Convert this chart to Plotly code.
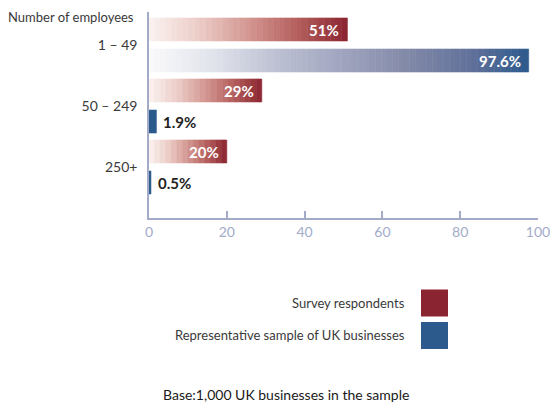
import plotly.graph_objects as go

# ---- data -----------------------------------------------------------------
categories = ["1 – 49", "50 – 249", "250+"]
survey_values = [51, 29, 20]
sample_values = [97.6, 1.9, 0.5]
survey_labels = ["51%", "29%", "20%"]
sample_labels = ["97.6%", "1.9%", "0.5%"]
x_ticks = [0, 20, 40, 60, 80, 100]

series_names = ["Survey respondents", "Representative sample of UK businesses"]

# ---- styling --------------------------------------------------------------
FONT = "Lato, 'Open Sans', sans-serif"
RED_STOPS = [(0.0, "#fbf3f1"), (0.25, "#eccdc8"), (0.5, "#d49792"),
             (0.75, "#b45f5d"), (1.0, "#8a2430")]
BLUE_STOPS = [(0.0, "#fafafc"), (0.17, "#e1e3eb"), (0.34, "#bcc0d2"),
              (0.5, "#a2a6c0"), (0.67, "#848ba9"), (0.85, "#61719a"),
              (1.0, "#2c5a8c")]
RED_SOLID = "#8a2430"
BLUE_SOLID = "#2c5a8c"
AXIS_COLOR = "#a3abc9"

W, H = 550, 405
ML, MR, MT, MB = 149, 12, 12, 187
PW, PH = W - ML - MR, H - MT - MB


def px_x(px):
    return (px - ML) / PW


def px_y(py):
    return (H - MB - py) / PH


def hex_rgb(h):
    h = h.lstrip("#")
    return tuple(int(h[i:i + 2], 16) for i in (0, 2, 4))


def ramp(stops, t):
    for (t0, c0), (t1, c1) in zip(stops, stops[1:]):
        if t <= t1:
            f = 0 if t1 == t0 else (t - t0) / (t1 - t0)
            a, b = hex_rgb(c0), hex_rgb(c1)
            return "rgb(%d,%d,%d)" % tuple(round(a[i] + (b[i] - a[i]) * f) for i in range(3))
    return stops[-1][1]


def banded(values, stops, solid, band=1.45):
    """Split each bar into narrow bands that fade from white to the series colour."""
    ys, bases, lens, cols = [], [], [], []
    for cat, v in zip(categories, values):
        if v < 5:
            ys.append(cat); bases.append(0); lens.append(v); cols.append(solid)
            continue
        n = max(1, round(v / band))
        step = v / n
        for i in range(n):
            ys.append(cat)
            bases.append(i * step)
            lens.append(step)
            cols.append(ramp(stops, (i + 0.5) / n))
    return ys, bases, lens, cols


fig = go.Figure()

BAR_W = 0.377
for name, vals, stops, solid, off in [
    (series_names[0], survey_values, RED_STOPS, RED_SOLID, -0.443),
    (series_names[1], sample_values, BLUE_STOPS, BLUE_SOLID, 0.066),
]:
    ys, bases, lens, cols = banded(vals, stops, solid)
    fig.add_trace(go.Bar(
        name=name, orientation="h", y=ys, x=lens, base=bases,
        width=BAR_W, offset=off,
        marker=dict(color=cols, line=dict(color=cols, width=0.6)),
        hoverinfo="skip", showlegend=False,
    ))

# value labels
annotations = []
for labels, vals, shift in [(survey_labels, survey_values, 15.5),
                            (sample_labels, sample_values, -15.5)]:
    for cat, v, lab in zip(categories, vals, labels):
        inside = v > 10
        annotations.append(dict(
            x=v, y=cat, xref="x", yref="y", text="<b>%s</b>" % lab,
            showarrow=False, yshift=shift,
            xanchor="right" if inside else "left",
            xshift=-6 if inside else 5,
            font=dict(family=FONT, size=15, color="white" if inside else "#222222"),
        ))

# axis caption above the category labels
annotations.append(dict(
    x=px_x(136), y=px_y(17), xref="paper", yref="paper", text="Number of employees",
    showarrow=False, xanchor="right", yanchor="middle",
    font=dict(family=FONT, size=13, color="#3a3a3a"),
))

# legend: text to the left of the swatch
shapes = []
for name, col, yc in [(series_names[0], RED_SOLID, 303), (series_names[1], BLUE_SOLID, 335.5)]:
    shapes.append(dict(type="rect", xref="paper", yref="paper",
                       x0=px_x(421), x1=px_x(448), y0=px_y(yc - 13.5), y1=px_y(yc + 13.5),
                       fillcolor=col, line=dict(width=0)))
    annotations.append(dict(
        x=px_x(407), y=px_y(yc), xref="paper", yref="paper", text=name,
        showarrow=False, xanchor="right", yanchor="middle",
        font=dict(family=FONT, size=13, color="#3a3a3a"),
    ))

annotations.append(dict(
    x=px_x(286), y=px_y(395), xref="paper", yref="paper",
    text="Base:1,000 UK businesses in the sample",
    showarrow=False, xanchor="center", yanchor="middle",
    font=dict(family=FONT, size=14, color="#1a1a1a"),
))

fig.update_layout(
    width=W, height=H,
    margin=dict(l=ML, r=MR, t=MT, b=MB, pad=0, autoexpand=False),
    paper_bgcolor="white", plot_bgcolor="white",
    barmode="overlay",
    showlegend=False,
    annotations=annotations,
    shapes=shapes,
    font=dict(family=FONT),
    xaxis=dict(
        range=[0, 100], tickvals=x_ticks, ticks="inside", ticklen=7,
        tickcolor=AXIS_COLOR, tickwidth=1.5,
        showline=True, linecolor=AXIS_COLOR, linewidth=1.5,
        showgrid=False, zeroline=False,
        ticklabeloverflow="allow", automargin=False,
        tickfont=dict(family=FONT, size=14, color=AXIS_COLOR),
        fixedrange=True,
    ),
    yaxis=dict(
        type="category", categoryorder="array", categoryarray=categories,
        range=[2.836, -0.541], autorange=False,
        showline=True, linecolor=AXIS_COLOR, linewidth=1.5,
        showgrid=False, zeroline=False, ticks="",
        ticklabelstandoff=7, automargin=False,
        tickfont=dict(family=FONT, size=14, color="#3a3a3a"),
        fixedrange=True,
    ),
)

fig.write_html("out.html", config=dict(displayModeBar=False))
